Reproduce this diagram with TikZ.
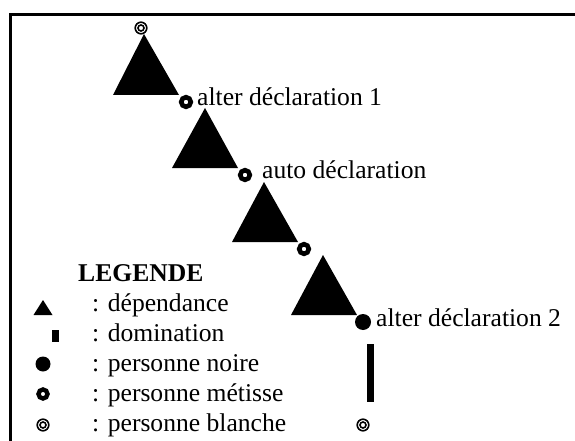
\documentclass[tikz,border=0pt]{standalone}
\usepackage{fontspec}
\setmainfont{Liberation Serif}
\begin{document}
\begin{tikzpicture}[x=1pt,y=-1pt,
  font=\fontsize{25.6}{30}\selectfont,
  lbl/.style={anchor=base west, inner sep=0pt},
  noire/.style={circle, fill=black, inner sep=0pt, minimum size=16pt},
  metisse/.style={circle, draw=black, line width=4.6pt, inner sep=0pt, minimum size=9.6pt},
  blanche/.style={circle, draw=black, line width=1.6pt, inner sep=0pt, minimum size=11.6pt,
    append after command={\pgfextra{\draw[line width=1.6pt] (\tikzlastnode.center) circle (3pt);}}},
  frameline/.style={line width=3pt},
  tri/.style={fill=black}
]
\useasboundingbox (0,0) rectangle (575,441);
% frame
\draw[frameline] (575,14.5) -- (10.8,14.5) -- (10.8,441);

% chain of triangles
\fill[tri] (144,34) -- (179,95) -- (113,95) -- cycle;
\fill[tri] (205,108) -- (238,168) -- (172,168) -- cycle;
\fill[tri] (264,182) -- (298,242) -- (232,242) -- cycle;
\fill[tri] (323,255) -- (357,315) -- (291,315) -- cycle;

\node[blanche] (b1) at (141,28) {};
\node[metisse] (m1) at (186,102) {};
\node[metisse] (m2) at (245,175) {};
\node[metisse] (m3) at (304,249) {};
\node[noire] (n1) at (363,322) {};
\fill (367,344) rectangle (374,402);
\node[blanche] (b2) at (363,425) {};

\node[lbl] (t1) at (197,106) {alter déclaration 1};
\node[lbl] (t2) at (262,178) {auto déclaration};
\node[lbl] (t3) at (376,326) {alter déclaration 2};

% legend
\node[lbl] (leg) at (78,281) {\bfseries LEGENDE};
\fill[tri] (43,300) -- (52.5,315) -- (33.5,315) -- cycle;
\fill (52,330) rectangle (59,342);
\node[noire, minimum size=15pt] (ln) at (43,364) {};
\node[metisse, minimum size=9pt, line width=4.4pt] (lm) at (43,394) {};
\node[blanche] (lb) at (43,425) {};

\node[lbl] (d1) at (92,311) {: dépendance};
\node[lbl] (d2) at (92,341) {: domination};
\node[lbl] (d3) at (92,371) {: personne noire};
\node[lbl] (d4) at (92,401) {: personne métisse};
\node[lbl] (d5) at (92,431) {: personne blanche};
\end{tikzpicture}
\end{document}
